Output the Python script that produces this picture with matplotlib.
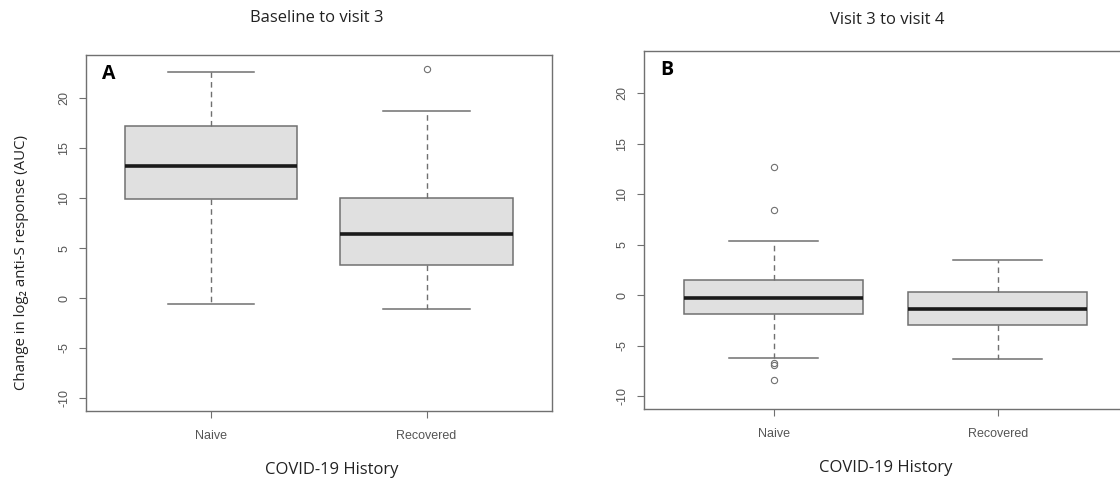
import matplotlib
matplotlib.use("Agg")
import matplotlib.pyplot as plt

groups = ["Naive", "Recovered"]

# panel A: baseline to visit 3 (whisker low, Q1, median, Q3, whisker high)
a_whislo = [-0.6, -1.1]
a_q1 = [9.9, 3.3]
a_med = [13.2, 6.4]
a_q3 = [17.2, 10.0]
a_whishi = [22.6, 18.7]
a_fliers = [[], [22.9]]

# panel B: visit 3 to visit 4
b_whislo = [-6.25, -6.35]
b_q1 = [-1.85, -2.95]
b_med = [-0.3, -1.4]
b_q3 = [1.5, 0.3]
b_whishi = [5.35, 3.5]
b_fliers = [[12.75, 8.45, -6.75, -6.9, -8.4], []]

yticks = [-10, -5, 0, 5, 10, 15, 20]

label_font = ["Open Sans", "DejaVu Sans"]
tick_font = "Liberation Sans"
edge = "#707070"


def make_stats(lo, q1, med, q3, hi, fl):
    out = []
    for i in range(len(groups)):
        out.append(dict(whislo=lo[i], q1=q1[i], med=med[i], q3=q3[i],
                        whishi=hi[i], fliers=fl[i], label=groups[i]))
    return out


def draw(ax, stats, ylim, letter):
    ax.bxp(stats, positions=[1, 2], widths=0.8, patch_artist=True,
           boxprops=dict(facecolor="#e0e0e0", edgecolor=edge, linewidth=1.1),
           medianprops=dict(color="#1a1a1a", linewidth=2.6),
           whiskerprops=dict(color=edge, linestyle=(0, (4, 3)), linewidth=1),
           capprops=dict(color=edge, linewidth=1.1),
           capwidths=0.4,
           flierprops=dict(marker="o", markersize=4.5, markerfacecolor="none",
                           markeredgecolor=edge, markeredgewidth=0.8))
    ax.set_xlim(0.42, 2.58)
    ax.set_ylim(*ylim)
    ax.set_yticks(yticks)
    ax.set_yticklabels([str(t) for t in yticks], rotation=90, va="center",
                       fontsize=9, family=tick_font, color="#555555")
    ax.set_xticks([1, 2])
    ax.set_xticklabels(groups, fontsize=9, family=tick_font, color="#555555")
    ax.tick_params(axis="y", length=5, color=edge, pad=6)
    ax.tick_params(axis="x", length=5, color=edge, pad=9)
    for s in ax.spines.values():
        s.set_color(edge)
        s.set_linewidth(1)
    ax.text(0.035, 0.975, letter, transform=ax.transAxes, ha="left", va="top",
            fontsize=14, fontweight="bold", family=label_font)


fig = plt.figure(figsize=(11.2, 4.8), dpi=100)
axA = fig.add_axes([0.0765, 0.1438, 0.4161, 0.741])
axB = fig.add_axes([0.5748, 0.148, 0.432, 0.7457])

draw(axA, make_stats(a_whislo, a_q1, a_med, a_q3, a_whishi, a_fliers),
     (-11.3, 24.3), "A")
draw(axB, make_stats(b_whislo, b_q1, b_med, b_q3, b_whishi, b_fliers),
     (-11.27, 24.21), "B")

txt = dict(ha="center", va="center", family=label_font, color="#222222")
fig.text(317 / 1120, 1 - 18 / 480, "Baseline to visit 3", fontsize=12, **txt)
fig.text(887 / 1120, 1 - 20 / 480, "Visit 3 to visit 4", fontsize=12, **txt)
fig.text(332 / 1120, 1 - 470 / 480, "COVID-19 History", fontsize=12, **txt)
fig.text(886 / 1120, 1 - 468 / 480, "COVID-19 History", fontsize=12, **txt)
fig.text(22 / 1120, 1 - 263 / 480, "Change in log\u2082 anti-S response (AUC)",
         rotation=90, fontsize=10.8, **txt)

fig.savefig("out.png", dpi=100)
